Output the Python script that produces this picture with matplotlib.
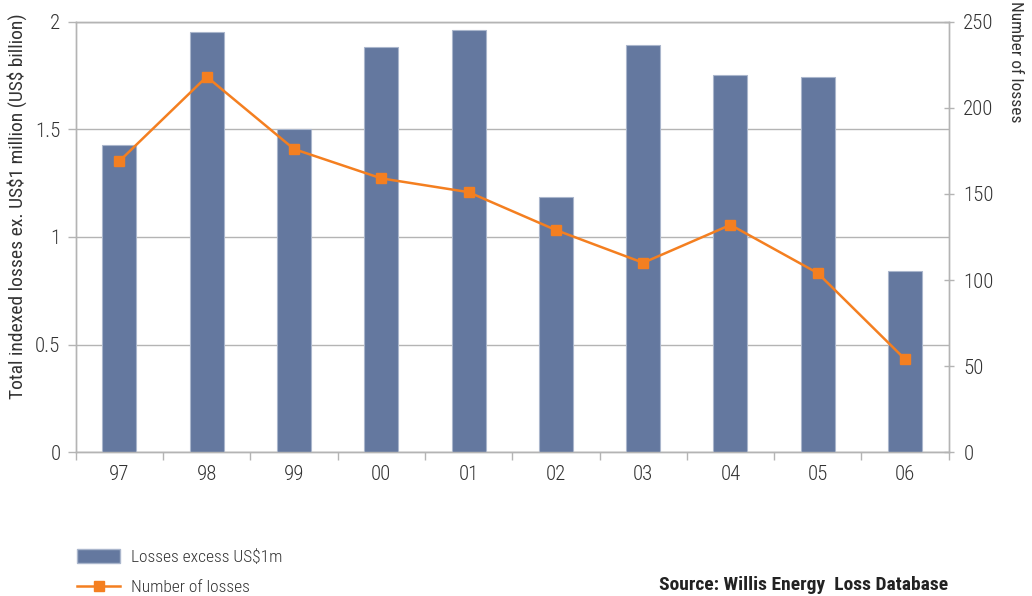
import matplotlib
matplotlib.use("Agg")
import matplotlib.pyplot as plt
from matplotlib.lines import Line2D
from matplotlib.patches import Patch
import numpy as np

years = ["97", "98", "99", "00", "01", "02", "03", "04", "05", "06"]
losses_bn = [1.426, 1.951, 1.50, 1.882, 1.963, 1.186, 1.89, 1.751, 1.742, 0.843]
loss_counts = [169, 218, 176, 159, 151, 129, 110, 132, 104, 54]

left_ticks = [0, 0.5, 1, 1.5, 2]
left_labels = ["0", "0.5", "1", "1.5", "2"]
right_ticks = [0, 50, 100, 150, 200, 250]

BAR = "#64789f"
BAR_EDGE = "#aab6cc"
ORANGE = "#f47f20"
GRID = "#b4b4b4"
TEXT = "#333333"

plt.rcParams["font.family"] = ["Roboto Condensed", "Sofia Sans Condensed",
                               "Barlow Semi Condensed", "DejaVu Sans"]
plt.rcParams["font.weight"] = "light"

fig = plt.figure(figsize=(10.32, 5.96), dpi=100)
ax = fig.add_axes([0.0734, 0.2411, 0.8459, 0.7227])
ax2 = ax.twinx()

x = np.arange(len(years))
ax.bar(x, losses_bn, width=0.39, color=BAR, edgecolor=BAR_EDGE, linewidth=0.8, zorder=3)
ax.set_xlim(-0.5, len(years) - 0.5)
ax.set_ylim(0, 2)
ax.set_yticks(left_ticks)
ax.set_yticklabels(left_labels)
ax.yaxis.grid(True, color=GRID, linewidth=1.0, zorder=0)
ax.set_axisbelow(True)

ax.set_xticks(x)
ax.set_xticklabels(years)
ax.set_xticks(np.arange(-0.5, len(years), 1.0), minor=True)
ax.tick_params(axis="x", which="major", length=0, pad=9, labelsize=15, colors=TEXT)
ax.tick_params(axis="x", which="minor", length=6, width=1, color=GRID, direction="out")
ax.tick_params(axis="y", length=6, width=1, color=GRID, pad=5, labelsize=15, labelcolor=TEXT)

for side in ["left", "bottom", "right", "top"]:
    for a in (ax, ax2):
        a.spines[side].set_color(GRID)
        a.spines[side].set_linewidth(1.0)

ax.set_ylabel("Total indexed losses ex. US\\$1 million (US\\$ billion)", fontsize=14,
              color=TEXT)
ax.yaxis.set_label_coords(-0.0555, 0.572)

ax2.plot(x, loss_counts, color=ORANGE, linewidth=1.8, marker="s", markersize=7,
         markerfacecolor=ORANGE, markeredgecolor=ORANGE, zorder=4)
ax2.set_ylim(0, 250)
ax2.set_yticks(right_ticks)
ax2.tick_params(axis="y", length=7, width=1, color=GRID, direction="inout", pad=7,
                labelsize=15, labelcolor=TEXT)
ax2.set_ylabel("Number of losses", fontsize=12.5, color=TEXT, rotation=270, va="center")
ax2.yaxis.set_label_coords(1.077, 0.906)

handles = [
    Patch(facecolor=BAR, edgecolor=BAR_EDGE, label="Losses excess US\\$1m"),
    Line2D([0], [0], color=ORANGE, linewidth=1.8, marker="s", markersize=7,
           label="Number of losses"),
]
fig.legend(handles=handles, loc="center left", bbox_to_anchor=(0.0746, 0.040),
           borderaxespad=0, borderpad=0, frameon=False, fontsize=12.5,
           handlelength=2.5, handleheight=0.8, labelspacing=0.84, handletextpad=0.63,
           labelcolor=TEXT)

fig.text(0.919, 0.004, "Source: Willis Energy  Loss Database", ha="right", va="bottom",
         fontsize=14, fontweight="bold", color="#222222")

fig.savefig("out.png", dpi=100)
